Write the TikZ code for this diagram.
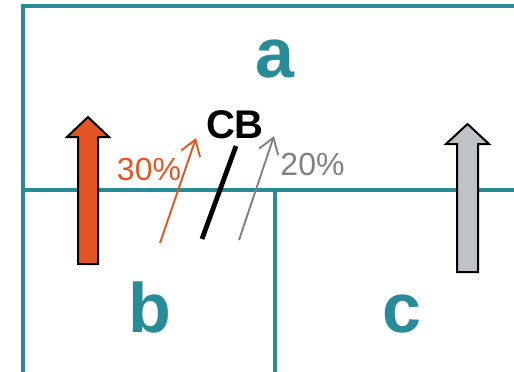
\documentclass[tikz,border=0pt]{standalone}
\usepackage{fontspec}
\setmainfont{Liberation Sans}
\usepackage{tikz}
\usetikzlibrary{arrows.meta}

\definecolor{wallteal}{RGB}{40,140,152}
\definecolor{flowred}{RGB}{229,85,35}
\definecolor{flowgray}{RGB}{128,128,128}
\definecolor{blockgray}{RGB}{192,195,197}

\begin{document}
\begin{tikzpicture}[
    x=1pt, y=-1pt,
    wall/.style={draw=wallteal, line width=3.3pt},
    zone/.style={inner sep=0pt, anchor=base, text=wallteal, font=\fontsize{70}{80}\selectfont\bfseries},
    pct/.style={inner sep=0pt, anchor=base, font=\fontsize{32}{38}\selectfont},
    flow/.style={line width=1.9pt, -{Straight Barb[length=15pt, width=20pt]}},
    bigarrow/.style={draw=black, line width=2pt, line join=miter}
]
\useasboundingbox (0,0) rectangle (514,372);

% walls
\draw[wall] (23,372) -- (23,6) -- (514,6);
\draw[wall] (23,190) -- (514,190);
\draw[wall] (275,190) -- (275,372);

% zone labels
\node[zone] (za) at (275,77) {a};
\node[zone] (zb) at (150,332) {b};
\node[zone] (zc) at (402,332) {c};

% block arrows
\filldraw[bigarrow, fill=flowred] (78,264) -- (78,137) -- (67,137) -- (88,117) -- (109,137) -- (98,137) -- (98,264) -- cycle;
\filldraw[bigarrow, fill=blockgray] (457,272) -- (457,144) -- (446,144) -- (467.5,124) -- (489,144) -- (478,144) -- (478,272) -- cycle;

% CB and split
\node[inner sep=0pt, anchor=base, font=\fontsize{40}{48}\selectfont\bfseries] (cb) at (235,138) {CB};
\coordinate (cbtop) at (236,146);
\coordinate (cbbot) at (202,239);
\draw[line width=4.8pt] (cbbot) -- (cbtop);

\coordinate (redfrom) at (160,243);
\coordinate (redto) at (196,138);
\draw[flow, flowred] (redfrom) -- (redto);
\node[pct, text=flowred] (redpct) at (149,180) {30\%};

\coordinate (grayfrom) at (239,240);
\coordinate (grayto) at (274,136);
\draw[flow, flowgray] (grayfrom) -- (grayto);
\node[pct, text=flowgray] (graypct) at (312.5,175) {20\%};
\end{tikzpicture}
\end{document}
